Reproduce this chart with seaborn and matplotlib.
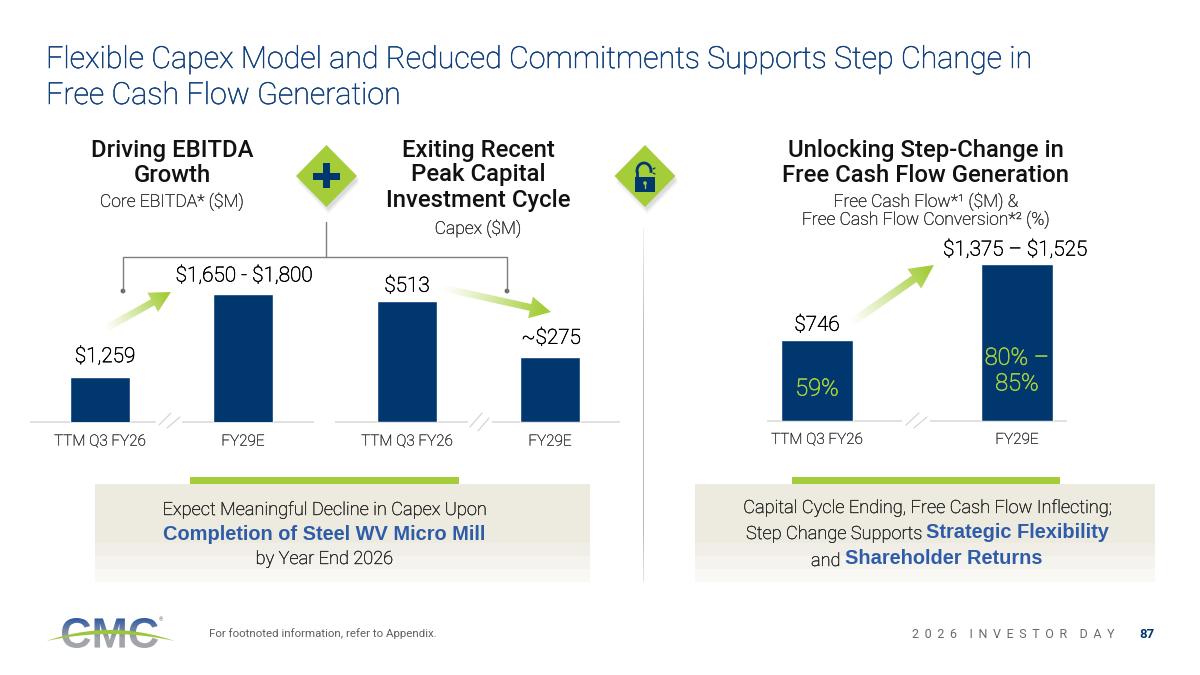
import numpy as np
import matplotlib
matplotlib.use("Agg")
import matplotlib.pyplot as plt
import seaborn as sns
from matplotlib.patches import Polygon, Rectangle, Circle, Arc, PathPatch
from matplotlib.textpath import TextPath
from matplotlib.font_manager import FontProperties
from matplotlib.colors import to_rgb
from matplotlib.transforms import Affine2D
import matplotlib.patheffects as pe

# ---------- data ----------
categories = ["TTM Q3 FY26", "FY29E"]
ebitda_values = [1259, 1725]
capex_values = [513, 275]
fcf_values = [746, 1450]
ebitda_labels = ["$1,259", "$1,650 - $1,800"]
capex_labels = ["$513", "~$275"]
fcf_labels = ["$746", "$1,375 – $1,525"]
conversion_labels = ["59%", "80% –\n85%"]

NAVY = "#00376f"
GREEN = "#a4cd39"
TITLE_BLUE = "#0f3f7c"
BLUE_TXT = "#2f5ca8"
GREY_TXT = "#2e2e2e"
LINE = "#dcdcdc"
W, H = 1200, 675

sns.set_style("white")
plt.rcParams["font.family"] = ["Roboto", "DejaVu Sans"]

fig = plt.figure(figsize=(12, 6.75), dpi=100, facecolor="white")
bg = fig.add_axes([0, 0, 1, 1], zorder=0)
bg.set_xlim(0, W)
bg.set_ylim(H, 0)
bg.axis("off")


def thicken(color, w=0.3):
    return [pe.withStroke(linewidth=w, foreground=color)]


def chart_axes(left, right, top, bottom, centers, bar_px, ymin, ymax, vals):
    ax = fig.add_axes([left / W, 1 - bottom / H, (right - left) / W, (bottom - top) / H], zorder=2)
    ax.patch.set_alpha(0)
    step = centers[1] - centers[0]
    sns.barplot(x=categories, y=vals, ax=ax, color=NAVY, saturation=1, width=bar_px / step)
    ax.set_xlim((left - centers[0]) / step, (right - centers[0]) / step)
    ax.set_ylim(ymin, ymax)
    sns.despine(ax=ax, left=True, bottom=True, top=True, right=True)
    ax.set_yticks([])
    ax.tick_params(axis="x", length=0, pad=9, labelsize=11, labelcolor=GREY_TXT)
    for lab in ax.get_xticklabels():
        lab.set_fontweight("light")
        lab.set_path_effects(thicken(GREY_TXT, 0.2))
    return ax


def value_labels(ax, vals, labels, offsets):
    for i, (v, lab, off) in enumerate(zip(vals, labels, offsets)):
        ax.annotate(lab, (i, v), xytext=off, textcoords="offset pixels", parse_math=False,
                    ha="center", va="center", fontsize=14.9, color="#000000", fontweight="light",
                    path_effects=thicken("#000000", 0.4))


ax1 = chart_axes(30, 314, 230, 422, (100, 243), 60, 1003, 2085, ebitda_values)
value_labels(ax1, ebitda_values, ebitda_labels, [(5, 20), (1, 18)])
ax2 = chart_axes(335, 620, 230, 422, (407, 550), 60, 0, 815, capex_values)
value_labels(ax2, capex_values, capex_labels, [(0, 15), (1, 19)])
ax3 = chart_axes(767, 1067, 230, 421, (817, 1017), 72, 0, 1763, fcf_values)
value_labels(ax3, fcf_values, fcf_labels, [(0, 15), (-2, 14)])
ax3.tick_params(axis="x", pad=8.5)
ax3.annotate(conversion_labels[0], (0, 0), xytext=(0, 32), textcoords="offset pixels",
             ha="center", va="center", fontsize=17, color=GREEN, fontweight="light",
             path_effects=thicken(GREEN, 0.5))
ax3.annotate(conversion_labels[1], (1, 0), xytext=(0, 50), textcoords="offset pixels",
             ha="center", va="center", fontsize=17, color=GREEN, linespacing=1.15, fontweight="light",
             path_effects=thicken(GREEN, 0.5))

# ---------- baselines with break marks ----------
for x0, x1, y in [(30, 156, 422), (182, 314, 422), (335, 468, 422), (492, 620, 422),
                  (767, 902, 421), (930, 1067, 421)]:
    bg.plot([x0, x1], [y, y], color=LINE, lw=1.2, solid_capstyle="butt")
for (x0, y0, x1, y1) in [(159, 425, 171, 413), (167, 428, 180, 417), (470, 427, 482, 413),
                         (478, 431, 489, 418), (906, 425, 919, 413), (914, 428, 927, 417)]:
    bg.plot([x0, x1], [y0, y1], color="#d5d5d5", lw=0.9)

# ---------- title ----------
TITLE_FS = 21.9
bg.text(46, 60, "Flexible Capex Model and Reduced Commitments Supports Step Change in",
        fontsize=TITLE_FS, color=TITLE_BLUE, va="center", ha="left", fontweight="light",
        path_effects=thicken(TITLE_BLUE, 0.35))
bg.text(46, 96, "Free Cash Flow Generation",
        fontsize=TITLE_FS, color=TITLE_BLUE, va="center", ha="left", fontweight="light",
        path_effects=thicken(TITLE_BLUE, 0.35))


# ---------- headings ----------
def heading(x, y, s):
    bg.text(x, y, s, ha="center", va="center", fontsize=17.2, fontweight="medium", color="#111111")


def sub(x, y, s):
    bg.text(x, y, s, ha="center", va="center", fontsize=12.6, color=GREY_TXT, fontweight="light",
            parse_math=False, path_effects=thicken(GREY_TXT, 0.25))


heading(172, 150, "Driving EBITDA")
heading(172, 175, "Growth")
sub(172, 202, "Core EBITDA* ($M)")
heading(478, 150, "Exiting Recent")
heading(478, 175, "Peak Capital")
heading(478, 201, "Investment Cycle")
sub(478, 229, "Capex ($M)")
heading(926, 150, "Unlocking Step-Change in")
heading(926, 175, "Free Cash Flow Generation")
sub(926, 202, "Free Cash Flow*¹ ($M) &")
sub(926, 220, "Free Cash Flow Conversion*² (%)")


# ---------- diamonds ----------
def diamond(cx, cy, hw=30.5, hh=31):
    for k, a in zip((7, 5, 3), (0.05, 0.07, 0.09)):
        bg.add_patch(Polygon([(cx + 2, cy - hh + k), (cx + hw + 2, cy + k), (cx + 2, cy + hh + k),
                              (cx - hw + 2, cy + k)], closed=True, fc="#555555", ec="none", alpha=a))
    bg.add_patch(Polygon([(cx, cy - hh), (cx + hw, cy), (cx, cy + hh), (cx - hw, cy)],
                         closed=True, fc=GREEN, ec="none"))


diamond(326.5, 176)
diamond(645, 176)
bg.add_patch(Rectangle((313, 172.5), 27, 7, fc=NAVY, ec="none"))
bg.add_patch(Rectangle((323, 163), 7, 25, fc=NAVY, ec="none"))
# lock
bg.add_patch(Rectangle((635, 177), 20, 15, fc=NAVY, ec="none"))
bg.add_patch(Arc((644, 171), 14, 16, theta1=165, theta2=375, color=NAVY, lw=2))
bg.plot([637, 637], [171, 177], color=NAVY, lw=2, solid_capstyle="butt")
bg.add_patch(Circle((645, 183), 1.8, fc=GREEN, ec="none"))
bg.plot([645, 645], [183, 188], color=GREEN, lw=1)
bg.plot([653, 655], [169, 168], color=NAVY, lw=0.9)
bg.plot([653, 655], [173, 174], color=NAVY, lw=0.9)

# ---------- bracket ----------
BR = "#7f7f7f"
bg.plot([326, 326], [222, 257], color=BR, lw=1)
bg.plot([123, 123, 507, 507], [291, 257, 257, 291], color=BR, lw=1)
bg.add_patch(Circle((123, 291), 2.4, fc="#666666", ec="none"))
bg.add_patch(Circle((507, 291), 2.4, fc="#666666", ec="none"))

# ---------- divider ----------
grad = np.zeros((200, 1, 4))
grad[..., :3] = 0.5
grad[:, 0, 3] = np.interp(np.linspace(0, 1, 200), [0, 0.3, 0.85, 1], [0.12, 0.55, 0.55, 0.2])
bg.imshow(grad, extent=(643.4, 644.4, 582, 228), aspect="auto", interpolation="bilinear", zorder=1)


# ---------- gradient arrows ----------
def grad_arrow(tail, tip, shaft=8.0, head_w=25.0, head_l=24.0):
    t = np.array(tail, float)
    p = np.array(tip, float)
    d = p - t
    L = np.hypot(*d)
    u = d / L
    n = np.array([-u[1], u[0]])
    b = p - u * head_l
    poly = [t + n * shaft / 2, b + n * shaft / 2, b + n * head_w / 2, p,
            b - n * head_w / 2, b - n * shaft / 2, t - n * shaft / 2]
    poly_patch = Polygon(poly, closed=True, fc="none", ec="none", transform=bg.transData)
    bg.add_patch(poly_patch)
    xs = np.array(poly)[:, 0]
    ys = np.array(poly)[:, 1]
    x0, x1, y0, y1 = int(xs.min()) - 1, int(xs.max()) + 2, int(ys.min()) - 1, int(ys.max()) + 2
    X, Y = np.meshgrid(np.linspace(x0, x1, (x1 - x0) * 2), np.linspace(y0, y1, (y1 - y0) * 2))
    prog = np.clip(((X - t[0]) * u[0] + (Y - t[1]) * u[1]) / L, 0, 1)
    img = np.zeros(X.shape + (4,))
    img[..., :3] = to_rgb(GREEN)
    img[..., 3] = np.clip(prog ** 1.1 * 1.1, 0, 1)
    im = bg.imshow(img, extent=(x0, x1, y1, y0), aspect="auto", interpolation="bilinear",
                   origin="upper", zorder=1)
    im.set_clip_path(poly_patch)


grad_arrow((105, 329), (171, 292), shaft=7, head_w=22, head_l=21)
grad_arrow((443, 288), (551, 312), shaft=7, head_w=22, head_l=21)
grad_arrow((851, 323), (934, 265), shaft=8, head_w=24, head_l=24)
bg.set_xlim(0, W)
bg.set_ylim(H, 0)


# ---------- callouts ----------
def callout(x0, x1, gx0, gx1):
    bands = [(484, 543, "#edebe0"), (543, 556, "#f0eee6"), (556, 569, "#f4f3ed"), (569, 582, "#f9f8f5")]
    for y0, y1, c in bands:
        bg.add_patch(Rectangle((x0, y0), x1 - x0, y1 - y0, fc=c, ec="none"))
    bg.add_patch(Rectangle((gx0, 477), gx1 - gx0, 7, fc=GREEN, ec="none"))


callout(95, 590, 190, 459)
callout(695, 1155, 792, 1060)
CFS = 13.1
TXT = "#222222"
LIGHT = dict(fontsize=CFS, color=TXT, fontweight="light", va="center", path_effects=thicken(TXT, 0.25))
BOLD = dict(fontsize=14.4, fontweight="bold", color=BLUE_TXT, family="Liberation Sans", va="center")
bg.text(324, 510, "Expect Meaningful Decline in Capex Upon", ha="center", **LIGHT)
bg.text(324, 534, "Completion of Steel WV Micro Mill", ha="center", **BOLD)
bg.text(324, 559, "by Year End 2026", ha="center", **LIGHT)
bg.text(927, 508, "Capital Cycle Ending, Free Cash Flow Inflecting;", ha="center", **LIGHT)
bg.text(746, 534, "Step Change Supports", ha="left", **LIGHT)
bg.text(926, 532, "Strategic Flexibility", ha="left", **BOLD)
bg.text(811, 561, "and", ha="left", **LIGHT)
bg.text(845, 559, "Shareholder Returns", ha="left", **BOLD)

# ---------- logo ----------
fp = FontProperties(family="Liberation Sans", weight="bold")
tp = TextPath((0, 0), "CMC", size=40, prop=fp)
ext = tp.get_extents()
sx = 96 / ext.width
sy = 30 / ext.height
path = tp.transformed(Affine2D().translate(-ext.x0, -ext.y0).scale(sx, -sy).translate(62, 648))
logo_patch = PathPatch(path, fc="none", ec="none", transform=bg.transData)
bg.add_patch(logo_patch)
stops = np.linspace(0, 1, 60)
c_top = np.array(to_rgb("#2a57a0"))
c_bot = np.array(to_rgb("#a2a5a9"))
img = np.array([c_top + (c_bot - c_top) * min(1, s * 1.5) for s in stops]).reshape(60, 1, 3)
im = bg.imshow(img, extent=(60, 160, 649, 617), aspect="auto", interpolation="bilinear", zorder=2)
im.set_clip_path(logo_patch)
xs = np.linspace(46, 174, 60)
ctr = (xs - 110) / 64
top = 640.5 - 11 * (1 - ctr ** 2)
bot = 640.5 - 7 * (1 - ctr ** 2)
bg.fill_between(xs, top, bot, color="#9dc63c", lw=0, zorder=3)
bg.text(161, 620, "®", fontsize=4, color="#666666", ha="center", va="center")
bg.set_xlim(0, W)
bg.set_ylim(H, 0)

# ---------- footer ----------
bg.text(209, 634, "For footnoted information, refer to Appendix.", fontsize=8.25, color="#5f5f5f",
        ha="left", va="center")
gap = " \u200a\u200a"
spaced = gap.join("2026") + "    " + gap.join("INVESTOR") + "    " + gap.join("DAY")
bg.text(1115, 634, spaced, fontsize=9, color="#6a6a6a", ha="right", va="center")
bg.text(1147, 634, "87", fontsize=9.5, color=NAVY, fontweight="bold", ha="center", va="center")

fig.savefig("out.png", dpi=100, facecolor="white")
